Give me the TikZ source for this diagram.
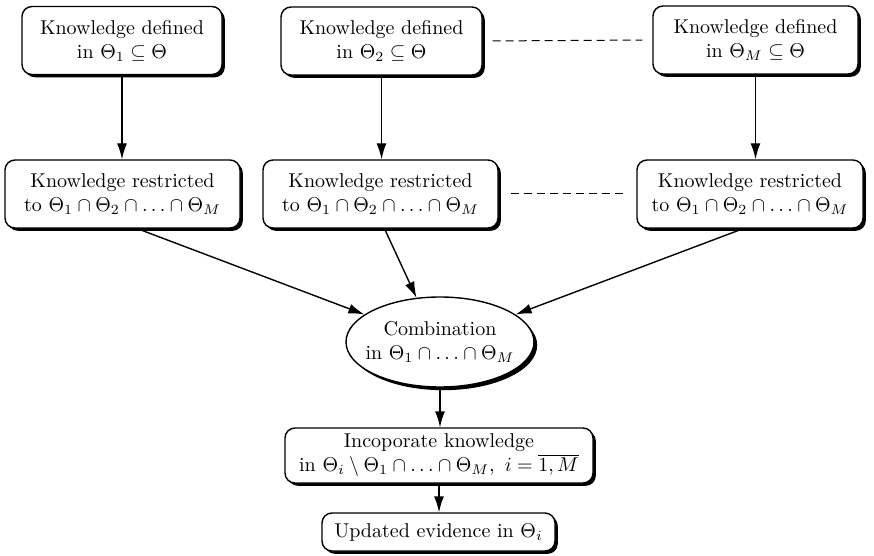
\documentclass[tikz,border=0pt]{standalone}
\usepackage{tikz}
\usetikzlibrary{shapes.geometric,shadows,arrows.meta}

\tikzset{
  kbox/.style={draw, fill=white, rounded corners=5pt, align=center,
    inner sep=1pt, line width=0.7pt,
    drop shadow={shadow xshift=1.4pt, shadow yshift=-1.4pt, fill=black, opacity=1}},
  kell/.style={draw, fill=white, ellipse, align=center, inner xsep=-4.5pt,
    inner ysep=0pt, line width=0.7pt,
    drop shadow={shadow xshift=1.6pt, shadow yshift=-1.6pt, fill=black, opacity=1}},
  flow/.style={-{Latex[length=8pt,width=5pt]}, line width=0.7pt},
  gap/.style={dash pattern=on 4pt off 2.5pt, line width=0.5pt},
}

\begin{document}
\begin{tikzpicture}[%
      x=0.5pt, y=-0.5pt,
      ]
      \useasboundingbox (0,0) rectangle (874,556);

      % knowledge in each frame
      \node [kbox, minimum width=100pt, minimum height=34pt] (top1) at (122,40.5)
        {Knowledge defined\\ in $\Theta_1 \subseteq \Theta$};
      \node [kbox, minimum width=100.5pt, minimum height=34pt] (top2) at (381.5,41)
        {Knowledge defined\\ in $\Theta_2 \subseteq \Theta$};
      \node [kbox, minimum width=102.5pt, minimum height=34pt] (top3) at (755.5,40)
        {Knowledge defined\\ in $\Theta_M \subseteq \Theta$};

      % restricted knowledge
      \node [kbox, minimum width=117.5pt, minimum height=34pt] (mid1) at (122.5,194)
        {Knowledge restricted\\ to $\Theta_1 \cap \Theta_2 \cap \ldots \cap \Theta_M$};
      \node [kbox, minimum width=117.5pt, minimum height=34pt] (mid2) at (380.5,194)
        {Knowledge restricted\\ to $\Theta_1 \cap \Theta_2 \cap \ldots \cap \Theta_M$};
      \node [kbox, minimum width=113pt, minimum height=34pt] (mid3) at (750,194)
        {Knowledge restricted\\ to $\Theta_1 \cap \Theta_2 \cap \ldots \cap \Theta_M$};

      \node [kell, minimum width=94pt, minimum height=45pt] (comb) at (440,342)
        {Combination\\ in $\Theta_1 \cap \ldots \cap \Theta_M$};

      \node [kbox, minimum width=154pt, minimum height=27.5pt] (inc) at (439,455.5)
        {Incoporate knowledge\\ in $\Theta_i \setminus \Theta_1 \cap \ldots \cap \Theta_M,\ i = \overline{1, M}$};
      \node [kbox, minimum width=116.5pt, minimum height=19pt] (upd) at (438.5,532)
        {Updated evidence in $\Theta_i$};

      \draw [gap, shorten <=5pt, shorten >=5pt] (top2.east) -- (top3.west);
      \draw [gap, shorten <=6pt, shorten >=5pt] (mid2.east) -- (mid3.west);

      \draw [flow] (top1.south) -- (top1.south |- mid1.north);
      \draw [flow] (top2.south) -- (top2.south |- mid2.north);
      \draw [flow] (top3.south) -- (top3.south |- mid3.north);

      \draw [flow] ([xshift=7.5pt]mid1.south) -- (comb.160);
      \draw [flow] ([xshift=2pt]mid2.south) -- (comb.118);
      \draw [flow] ([xshift=-3.5pt]mid3.south) -- (comb.20);

      \draw [flow] (comb.south) -- (comb.south |- inc.north);
      \draw [flow] (inc.south) -- (inc.south |- upd.north);
\end{tikzpicture}
\end{document}
